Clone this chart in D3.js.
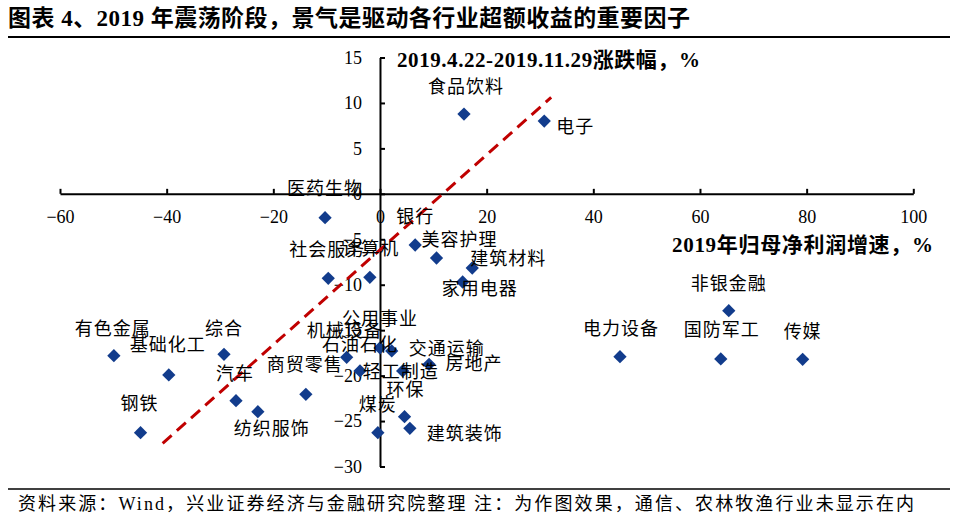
<!DOCTYPE html>
<html><head><meta charset="utf-8">
<script src="https://cdn.jsdelivr.net/npm/d3@7"></script>
<style>body{margin:0;background:#fff}svg{display:block}</style>
</head><body>
<svg id="chart" width="958" height="522"></svg>
<script>
// ---- data ----
const industries = ["食品饮料","电子","医药生物","银行","美容护理","建筑材料","家用电器","社会服务","计算机",
  "公用事业","机械设备","石油石化","轻工制造","交通运输","房地产","环保","煤炭","建筑装饰","商贸零售",
  "有色金属","基础化工","综合","汽车","纺织服饰","钢铁","非银金融","电力设备","国防军工","传媒"];
const profitGrowth = [15.75,30.8,-10.3,6.6,10.6,17.3,15.5,-9.7,-1.9,
  0.0,-6.25,-3.75,4.25,2.2,9.2,4.6,-0.4,5.6,-13.9,
  -49.9,-39.6,-29.25,-27.0,-22.9,-44.9,65.4,45.0,63.9,79.25];
const priceChange = [8.78,8.01,-2.63,-5.63,-7.06,-8.16,-9.70,-9.30,-9.19,
  -16.96,-17.99,-19.49,-19.49,-17.29,-18.76,-24.52,-26.28,-25.80,-22.06,
  -17.81,-19.93,-17.66,-22.76,-23.97,-26.28,-12.86,-17.92,-18.17,-18.21];
const xTicks = [-60,-40,-20,0,20,40,60,80,100];
const yTicks = [15,10,5,0,-5,-10,-15,-20,-25,-30];
const trendX = [-40.75, 32.1];
const trendY = [-27.45, 10.62];
const titleText = "图表 4、2019 年震荡阶段，景气是驱动各行业超额收益的重要因子";
const yTitle = "2019.4.22-2019.11.29涨跌幅，%";
const xTitle = "2019年归母净利润增速，%";
const footerText = "资料来源：Wind，兴业证券经济与金融研究院整理  注：为作图效果，通信、农林牧渔行业未显示在内";

// ---- label placement (layout, separate from data) ----
const labelOffset = {
  "食品饮料":[2,-29],"电子":[31,4],"医药生物":[0,-31],"银行":[0,-30],"美容护理":[23,-20],
  "建筑材料":[36,-11],"家用电器":[17,5],"社会服务":[-1,-30],"计算机":[1,-30],"公用事业":[0,-31],
  "机械设备":[-2,-28],"石油石化":[0,-28],"轻工制造":[-2,-1],"交通运输":[55,-4],"房地产":[45,-2],
  "环保":[1,-29],"煤炭":[0,-30],"建筑装饰":[55,4],"商贸零售":[-1,-31],"有色金属":[-1,-29],
  "基础化工":[-1,-32],"综合":[0,-27],"汽车":[-1,-29],"纺织服饰":[14,15],"钢铁":[-1,-31],
  "非银金融":[0,-29],"电力设备":[1,-30],"国防军工":[1,-31],"传媒":[0,-29]
};

const svg = d3.select("#chart");
const x = d3.scaleLinear().domain([-60,100]).range([60,913.3]);
const y = d3.scaleLinear().domain([-30,15]).range([466.5,57.5]);
const serif = "'Liberation Serif','Times New Roman',serif";
const cjk = "'Noto Sans CJK SC','Noto Sans',sans-serif";

// title
svg.append("text").attr("x",8).attr("y",26)
  .attr("font-family",serif+","+cjk).attr("font-weight","bold").attr("font-size",23)
  .attr("textLength",682).attr("lengthAdjust","spacing")
  .attr("fill","#000").text(titleText);
svg.append("line").attr("x1",8).attr("x2",950).attr("y1",37).attr("y2",37)
  .attr("stroke","#000").attr("stroke-width",2);

// axes
const xAxis = d3.axisBottom(x).tickValues(xTicks).tickSize(-5).tickPadding(16).tickSizeOuter(0);
const gx = svg.append("g").attr("transform",`translate(0,${y(0)})`).call(xAxis);
gx.select(".domain").attr("stroke","#000").attr("stroke-width",2);
gx.selectAll(".tick line").attr("stroke","#000").attr("stroke-width",2);
gx.selectAll(".tick text").attr("font-family",serif).attr("font-size",18).attr("fill","#000").attr("dy","0.71em");

const yAxis = d3.axisLeft(y).tickValues(yTicks).tickSize(-5).tickPadding(18).tickSizeOuter(0);
const gy = svg.append("g").attr("transform",`translate(${x(0)},0)`).call(yAxis);
gy.select(".domain").attr("stroke","#000").attr("stroke-width",2);
gy.selectAll(".tick line").attr("stroke","#000").attr("stroke-width",2);
gy.selectAll(".tick text").attr("font-family",serif).attr("font-size",18).attr("fill","#000");

// axis titles
svg.append("text").attr("x",397).attr("y",67)
  .attr("font-family",serif+","+cjk).attr("font-weight","bold").attr("font-size",21)
  .attr("textLength",303).attr("lengthAdjust","spacing")
  .attr("fill","#000").text(yTitle);
svg.append("text").attr("x",672).attr("y",252)
  .attr("font-family",serif+","+cjk).attr("font-weight","bold").attr("font-size",21)
  .attr("textLength",261).attr("lengthAdjust","spacing")
  .attr("fill","#000").text(xTitle);

// trend line
svg.append("line")
  .attr("x1",x(trendX[0])).attr("y1",y(trendY[0]))
  .attr("x2",x(trendX[1])).attr("y2",y(trendY[1]))
  .attr("stroke","#C00000").attr("stroke-width",3).attr("stroke-dasharray","12,7");

// points
const pts = industries.map((n,i)=>({name:n, gx:profitGrowth[i], gy:priceChange[i]}));
const diamond = d3.symbol().type(d3.symbolSquare).size(88);
svg.append("g").selectAll("path").data(pts).join("path")
  .attr("d",diamond)
  .attr("transform",d=>`translate(${x(d.gx)},${y(d.gy)}) rotate(45)`)
  .attr("fill","#123C8C");

// labels
svg.append("g").selectAll("text").data(pts).join("text")
  .attr("x",d=>x(d.gx)+labelOffset[d.name][0])
  .attr("y",d=>y(d.gy)+labelOffset[d.name][1])
  .attr("text-anchor","middle").attr("dominant-baseline","central")
  .attr("font-family",cjk).attr("font-size",18).attr("letter-spacing",1)
  .attr("fill","#000").text(d=>d.name);

// footer
svg.append("line").attr("x1",8).attr("x2",950).attr("y1",489).attr("y2",489)
  .attr("stroke","#000").attr("stroke-width",1.5);
svg.append("text").attr("x",18).attr("y",510)
  .attr("font-family",serif+","+cjk).attr("font-size",18)
  .attr("textLength",896).attr("lengthAdjust","spacing")
  .attr("fill","#000").text(footerText);
</script>
</body></html>
